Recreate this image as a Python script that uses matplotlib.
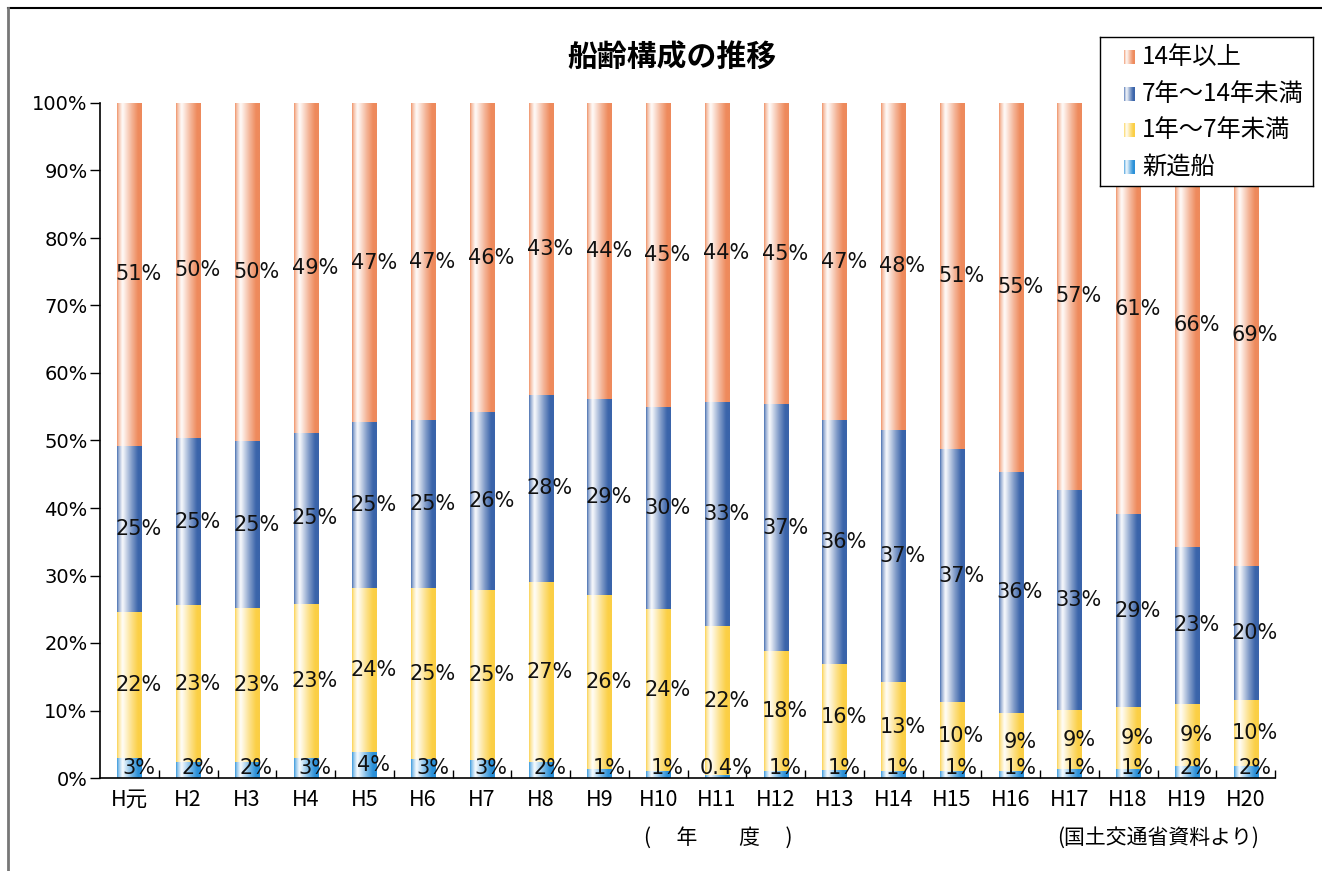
import numpy as np
import matplotlib
matplotlib.use("Agg")
import matplotlib.pyplot as plt
from matplotlib.colors import LinearSegmentedColormap, to_rgb
from matplotlib.lines import Line2D

plt.rcParams['font.family'] = ['Noto Sans CJK JP', 'DejaVu Sans']

# 年度
years = ["H元", "H2", "H3", "H4", "H5", "H6", "H7", "H8", "H9", "H10",
         "H11", "H12", "H13", "H14", "H15", "H16", "H17", "H18", "H19", "H20"]

# 船齢構成 (%)
new_ships = [3.0, 2.4, 2.4, 3.0, 3.9, 2.8, 2.7, 2.4, 1.3, 1.0,
             0.4, 1.0, 1.2, 1.0, 1.0, 1.0, 1.3, 1.3, 1.8, 1.8]
age_1_7 = [21.6, 23.2, 22.8, 22.8, 24.2, 25.3, 25.2, 26.6, 25.8, 24.0,
           22.1, 17.8, 15.7, 13.2, 10.3, 8.6, 8.8, 9.2, 9.2, 9.8]
age_7_14 = [24.6, 24.8, 24.7, 25.3, 24.6, 24.9, 26.3, 27.8, 29.0, 30.0,
            33.2, 36.6, 36.1, 37.4, 37.4, 35.8, 32.6, 28.6, 23.2, 19.8]
age_14_plus = [50.8, 49.6, 50.1, 48.9, 47.3, 47.0, 45.8, 43.2, 43.9, 45.0,
               44.3, 44.6, 47.0, 48.4, 51.3, 54.6, 57.3, 60.9, 65.8, 68.6]

series_names = ["新造船", "1年～7年未満", "7年～14年未満", "14年以上"]
series_values = [new_ships, age_1_7, age_7_14, age_14_plus]
series_colors = ["#2A90D8", "#FBCF45", "#3A64AA", "#EE8A5C"]


def cylinder_cmap(color):
    c = np.array(to_rgb(color))
    w = np.ones(3)
    stops = [(0.0, 1.0), (0.05, 0.6), (0.22, 0.02), (0.6, 0.65),
             (0.85, 1.0), (1.0, 1.0)]
    return LinearSegmentedColormap.from_list(
        "cyl", [(p, tuple(w + (c - w) * b)) for p, b in stops])


def fmt(v):
    return f"{v:.1f}%" if v < 0.95 else f"{v:.0f}%"


fig = plt.figure(figsize=(13.22, 8.71), dpi=100)
ax = fig.add_axes([100 / 1322, 1 - 778 / 871, 1175 / 1322, 675 / 871])

x = np.arange(len(years))
gradient = np.linspace(0, 1, 256).reshape(1, -1)
bottom = np.zeros(len(years))
bar_w = 0.41

for name, vals, col in zip(series_names, series_values, series_colors):
    vals = np.array(vals)
    bars = ax.bar(x, vals, width=bar_w, bottom=bottom, color="none",
                  edgecolor="none", label=name)
    cmap = cylinder_cmap(col)
    for p, v in zip(bars.patches, vals):
        x0, y0 = p.get_x(), p.get_y()
        ax.imshow(gradient, cmap=cmap, aspect="auto", interpolation="bicubic",
                  extent=[x0, x0 + p.get_width(), y0, y0 + p.get_height()],
                  zorder=2)
        ymid = y0 + p.get_height() / 2
        if name == "新造船":
            ymid = max(ymid, 1.5)
        ax.text(x0 + p.get_width() / 2 + 0.16, ymid, fmt(v), ha="center",
                va="center", fontsize=15, family=["DejaVu Sans"],
                color="#111111", zorder=4)
    bottom = bottom + vals

ax.set_xlim(-0.5, len(years) - 0.5)
ax.set_ylim(0, 100)

ax.set_yticks(np.arange(0, 101, 10))
ax.set_yticklabels([f"{v}%" for v in range(0, 101, 10)],
                   family=["DejaVu Sans"], fontsize=14)
ax.tick_params(axis="y", direction="out", length=7, width=1, pad=2)

ax.set_xticks(x)
ax.set_xticklabels(years, fontsize=15.5)
ax.tick_params(axis="x", which="major", length=0, pad=8)
ax.set_xticks(np.arange(0.5, len(years), 1), minor=True)
ax.tick_params(axis="x", which="minor", direction="in", length=6, width=1)

for s in ["top", "right"]:
    ax.spines[s].set_visible(False)
for s in ["left", "bottom"]:
    ax.spines[s].set_linewidth(1.2)
    ax.spines[s].set_color("black")

fig.text(672 / 1322, 1 - 57 / 871, "船齢構成の推移", ha="center", va="center",
         fontsize=21.5, fontweight="bold")
fig.text(718 / 1322, 1 - 838 / 871, "(　 年　　度　 )", ha="center",
         va="center", fontsize=15)
fig.text(1158 / 1322, 1 - 838 / 871, "(国土交通省資料より)", ha="center",
         va="center", fontsize=15)

# legend box
lax = fig.add_axes([1100 / 1322, 1 - 186 / 871, 213 / 1322, 149 / 871],
                   zorder=10)
lax.set_facecolor("white")
lax.set_xticks([])
lax.set_yticks([])
for s in lax.spines.values():
    s.set_linewidth(1)
    s.set_color("black")
entry_y = [20, 57, 93, 130]
for yy, name, col in zip(entry_y, series_names[::-1], series_colors[::-1]):
    lax.imshow(gradient, cmap=cylinder_cmap(col), aspect="auto",
               extent=[24, 35, yy + 7, yy - 7], interpolation="bicubic")
    lax.text(42, yy, name, ha="left", va="center", fontsize=17.5)
lax.set_xlim(0, 213)
lax.set_ylim(149, 0)

# outer frame
fig.add_artist(Line2D([8 / 1322, 1], [1 - 8 / 871, 1 - 8 / 871],
                      transform=fig.transFigure, color="black", lw=1.5))
fig.add_artist(Line2D([8 / 1322, 8 / 1322], [0, 1 - 8 / 871],
                      transform=fig.transFigure, color="#777777", lw=2))

fig.savefig("out.png", dpi=100)
